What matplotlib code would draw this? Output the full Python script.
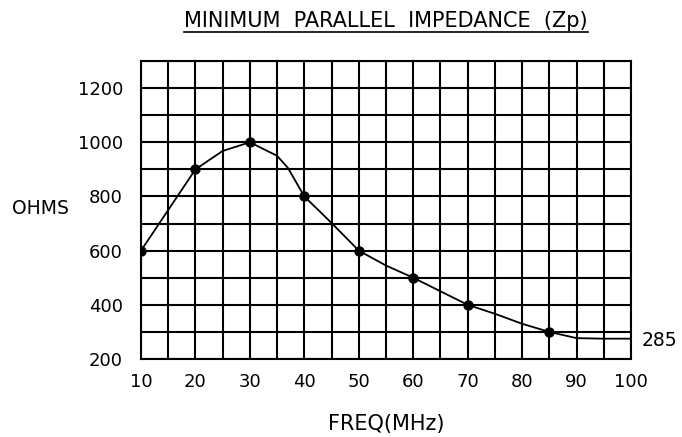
import matplotlib
matplotlib.use("Agg")
import matplotlib.pyplot as plt
from matplotlib.lines import Line2D
import numpy as np

# Puntos marcados en la curva
frecuencias = [10, 20, 30, 40, 50, 60, 70, 85]
ohmios = [600, 900, 1000, 800, 600, 500, 400, 300]

# Trazo de la curva
frec_curva = [10, 20, 25, 30, 35, 37, 40, 45, 50, 55, 60, 65, 70, 75, 80, 85, 90, 95, 100]
ohm_curva = [600, 900, 968, 1000, 950, 905, 800, 702, 600, 545, 500, 450, 400, 367, 330, 300, 277, 275, 275]

ticks_x = [10, 20, 30, 40, 50, 60, 70, 80, 90, 100]
ticks_y = [200, 400, 600, 800, 1000, 1200]
valor_final = "285"

plt.rcParams["font.family"] = "DejaVu Sans"
fig = plt.figure(figsize=(6.82, 4.37), dpi=100)
W, H = 682, 437
ax = fig.add_axes([141 / W, (H - 359) / H, 490 / W, 298 / H])

ax.set_xlim(10, 100)
ax.set_ylim(200, 1300)
ax.set_xticks(np.arange(10, 101, 5))
ax.set_yticks(np.arange(200, 1301, 100))
ax.grid(True, color="black", linewidth=1.5)
ax.set_xticklabels([str(t) if t in ticks_x else "" for t in np.arange(10, 101, 5)])
ax.set_yticklabels([str(t) if t in ticks_y else "" for t in np.arange(200, 1301, 100)])
ax.tick_params(length=0, labelsize=13)
ax.tick_params(axis="x", pad=10)
ax.tick_params(axis="y", pad=13)
for s in ax.spines.values():
    s.set_linewidth(1.5)

ax.plot(frec_curva, ohm_curva, color="black", linewidth=1.3, zorder=3)
ax.plot(frecuencias, ohmios, "o", color="black", markersize=6.5, zorder=4)

fig.text(12 / W, 1 - 208 / H, "OHMS", fontsize=13.5, ha="left", va="center")
fig.text(642 / W, 1 - 340 / H, valor_final, fontsize=13.5, ha="left", va="center")
fig.text(386 / W, 1 - 424 / H, "FREQ(MHz)", fontsize=15, ha="center", va="center")
titulo = fig.text(386 / W, 1 - 21 / H, "MINIMUM  PARALLEL  IMPEDANCE  (Zp)",
                  fontsize=15, ha="center", va="center")

# subrayado del título
fig.canvas.draw()
bb = titulo.get_window_extent()
y_sub = 1 - 32 / H
fig.add_artist(Line2D([bb.x0 / W, bb.x1 / W], [y_sub, y_sub],
                      color="black", linewidth=1.2))

fig.savefig("out.png", dpi=100)
